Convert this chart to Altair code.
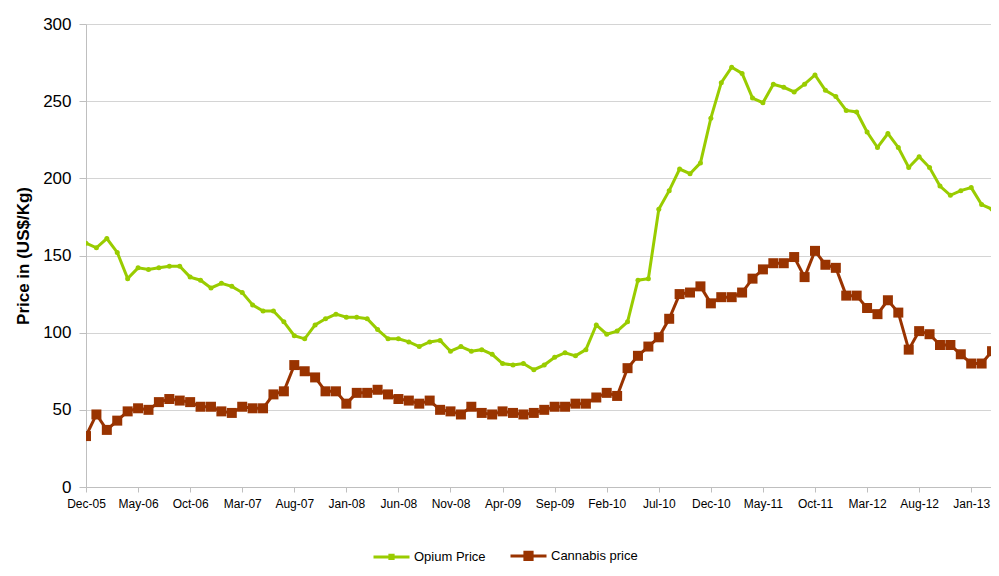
import altair as alt
import pandas as pd

# Category ticks (every 5 months, Dec-05 .. Jan-13)
tick_labels = ["Dec-05", "May-06", "Oct-06", "Mar-07", "Aug-07", "Jan-08", "Jun-08",
               "Nov-08", "Apr-09", "Sep-09", "Feb-10", "Jul-10", "Dec-10", "May-11",
               "Oct-11", "Mar-12", "Aug-12", "Jan-13"]

series_names = ["Opium Price", "Cannabis price"]
series_colors = ["#99CC00", "#993300"]

# Monthly values, Dec-05 .. Mar-13
opium = [158, 155, 161, 152, 135, 142, 141, 142, 143, 143,
         136, 134, 129, 132, 130, 126, 118, 114, 114, 107,
         98, 96, 105, 109, 112, 110, 110, 109, 102, 96,
         96, 94, 91, 94, 95, 88, 91, 88, 89, 86,
         80, 79, 80, 76, 79, 84, 87, 85, 89, 105,
         99, 101, 107, 134, 135, 180, 192, 206, 203, 210,
         239, 262, 272, 268, 252, 249, 261, 259, 256, 261,
         267, 257, 253, 244, 243, 230, 220, 229, 220, 207,
         214, 207, 195, 189, 192, 194, 183, 180]

cannabis = [33, 47, 37, 43, 49, 51, 50, 55, 57, 56,
            55, 52, 52, 49, 48, 52, 51, 51, 60, 62,
            79, 75, 71, 62, 62, 54, 61, 61, 63, 60,
            57, 56, 54, 56, 50, 49, 47, 52, 48, 47,
            49, 48, 47, 48, 50, 52, 52, 54, 54, 58,
            61, 59, 77, 85, 91, 97, 109, 125, 126, 130,
            119, 123, 123, 126, 135, 141, 145, 145, 149, 136,
            153, 144, 142, 124, 124, 116, 112, 121, 113, 89,
            101, 99, 92, 92, 86, 80, 80, 88]

rows = []
for i, v in enumerate(opium):
    rows.append({"month": i, "price": v, "series": series_names[0]})
for i, v in enumerate(cannabis):
    rows.append({"month": i, "price": v, "series": series_names[1]})
df = pd.DataFrame(rows)

FONT = "Liberation Sans"

label_js = "[" + ",".join("'" + t + "'" for t in tick_labels) + "][round(datum.value/5)]"

x_enc = alt.X(
    "month:Q",
    scale=alt.Scale(domain=[0, 86.9], nice=False, zero=False),
    axis=alt.Axis(
        values=list(range(0, 86, 5)), labelExpr=label_js, title=None, grid=False,
        domainColor="#bfbfbf", tickColor="#bfbfbf", tickSize=5, labelFontSize=12,
        labelPadding=6, labelFlush=False, labelOverlap=False, labelColor="#000000",
        labelFont=FONT,
    ),
)
y_enc = alt.Y(
    "price:Q",
    scale=alt.Scale(domain=[0, 300], nice=False),
    axis=alt.Axis(
        values=[0, 50, 100, 150, 200, 250, 300], title="Price in (US$/Kg)",
        titleFontSize=17, titleFontWeight="bold", titleFont=FONT, titleColor="#000000",
        titlePadding=10, labelFontSize=17, labelFont=FONT, labelColor="#000000",
        labelPadding=8, tickSize=7, tickColor="#bfbfbf", domainColor="#bfbfbf",
        gridColor="#d4d4d4", grid=True,
    ),
)

p_opium = "M-1,0H1M-0.09,-0.09H0.09V0.09H-0.09Z"
p_cann = "M-1,0H1M-0.2,-0.2H0.2V0.2H-0.2Z"
shape_sig = "datum.value === 'Opium Price' ? '" + p_opium + "' : '" + p_cann + "'"
col_sig = "datum.value === 'Opium Price' ? '" + series_colors[0] + "' : '" + series_colors[1] + "'"

legend = alt.Legend(
    title=None, orient="none", legendX=286, legendY=512, direction="horizontal",
    symbolSize=1296, labelFontSize=13, labelFont=FONT, labelColor="#000000",
    labelOffset=3, columnPadding=18, symbolStrokeWidth=3,
    symbolType=alt.ExprRef(expr=shape_sig),
    symbolStrokeColor=alt.ExprRef(expr=col_sig),
    symbolFillColor=alt.ExprRef(expr=col_sig),
    symbolOpacity=1,
)

color_scale = alt.Scale(domain=series_names, range=series_colors)
color_enc = alt.Color("series:N", scale=color_scale, legend=legend, sort=series_names)

lines = alt.Chart(df).mark_line(strokeWidth=3, clip=True).encode(
    x=x_enc, y=y_enc, color=color_enc, detail="series:N",
)

opium_pts = alt.Chart(df).transform_filter(
    alt.datum.series == series_names[0]
).mark_point(filled=True, opacity=1, clip=True, shape="circle", size=25).encode(
    x=x_enc, y=y_enc, color=color_enc,
)

cannabis_pts = alt.Chart(df).transform_filter(
    alt.datum.series == series_names[1]
).mark_point(filled=True, opacity=1, clip=True, shape="square", size=100).encode(
    x=x_enc, y=y_enc, color=color_enc,
)

chart = alt.layer(lines, opium_pts, cannabis_pts).properties(
    width=905, height=463,
    autosize=alt.AutoSizeParams(type="none"),
    padding={"left": 78, "top": 16, "right": 0, "bottom": 81},
    background="white",
).configure_view(stroke=None)

chart.save("out.html", embed_options={"renderer": "svg", "actions": False})
